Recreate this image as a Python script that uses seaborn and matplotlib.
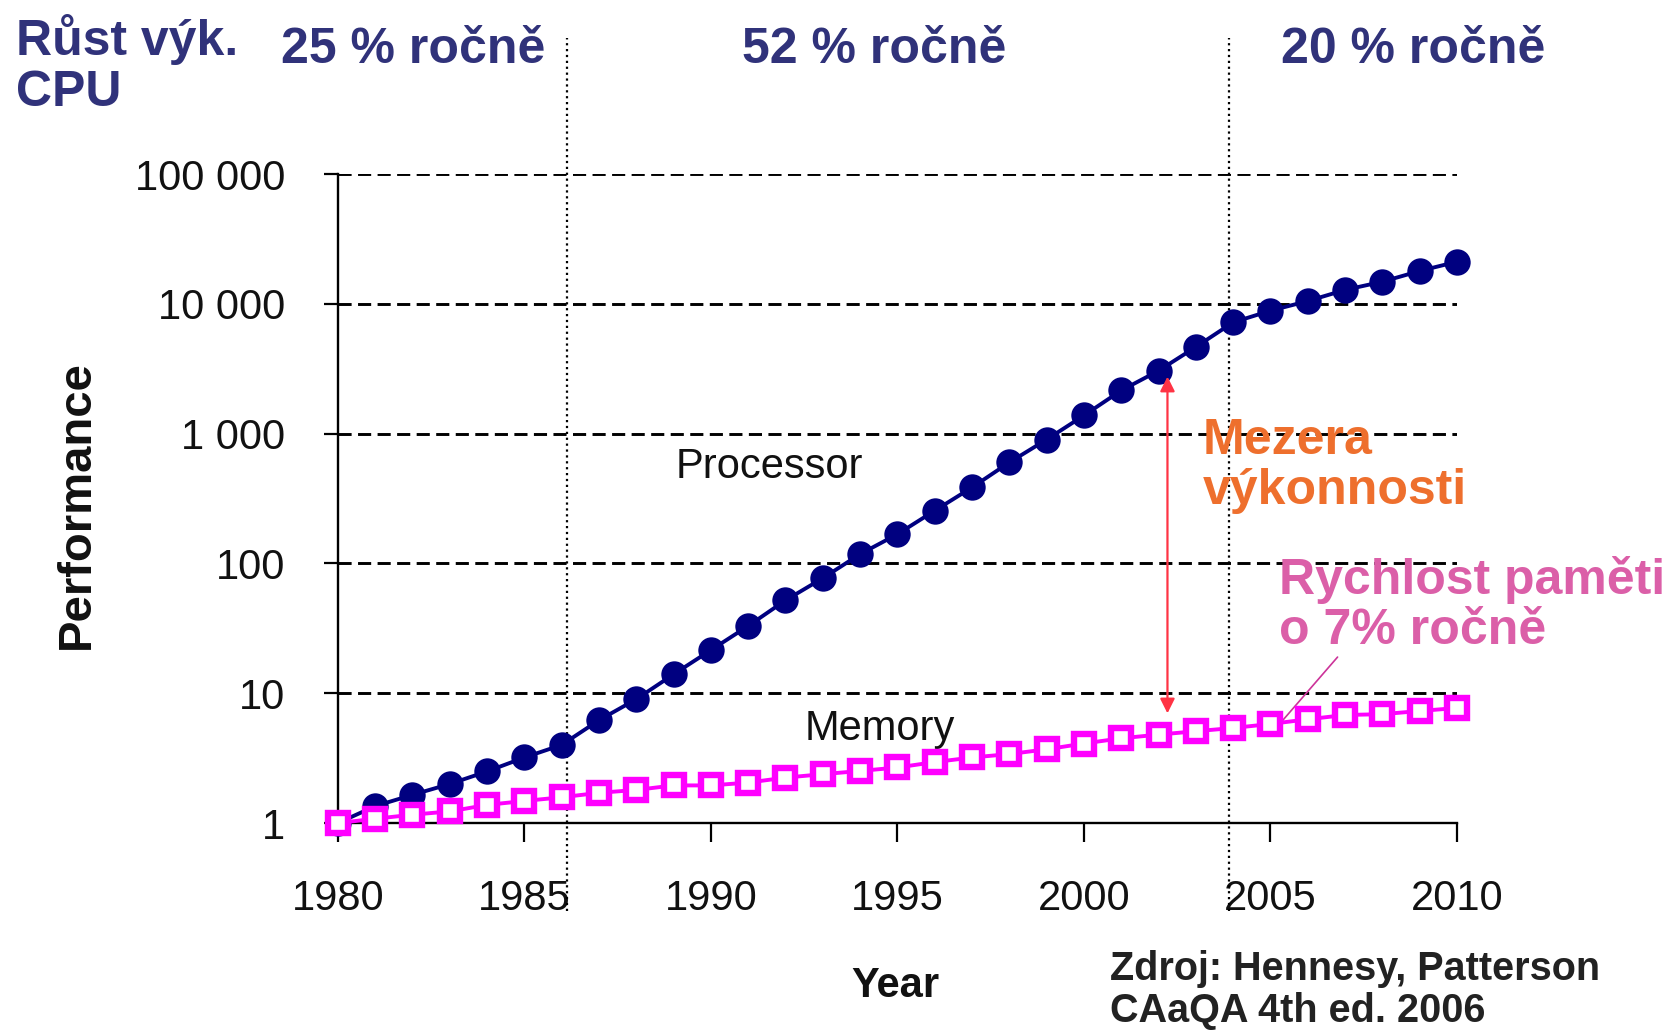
import numpy as np
import matplotlib
matplotlib.use("Agg")
import matplotlib.pyplot as plt
import seaborn as sns
import pandas as pd

# data
years = list(range(1980, 2011))
processor = [1, 1.35, 1.65, 2.0, 2.5, 3.2, 4.0, 6.2, 9.0, 14, 21.5, 33, 52, 77, 118, 168,
             255, 385, 600, 900, 1380, 2150, 3050, 4650, 7200, 8850, 10500, 12800, 14800,
             17900, 21100]
memory = [1, 1.08, 1.16, 1.23, 1.38, 1.48, 1.58, 1.71, 1.8, 1.95, 1.95, 2.05, 2.24, 2.38,
          2.52, 2.68, 2.95, 3.2, 3.4, 3.7, 4.1, 4.5, 4.8, 5.1, 5.4, 5.8, 6.3, 6.8, 6.9,
          7.3, 7.7]
ytick_vals = [1, 10, 100, 1000, 10000, 100000]
ytick_labels = ["1", "10", "100", "1 000", "10 000", "100 000"]
xtick_vals = [1980, 1985, 1990, 1995, 2000, 2005, 2010]
era_breaks = [1986.15, 2003.9]
era_labels = ["25 % ročně", "52 % ročně", "20 % ročně"]

df = pd.DataFrame({"Year": years, "Processor": processor, "Memory": memory})

sns.set_theme(style="white")
plt.rcParams["font.family"] = ["Liberation Sans", "DejaVu Sans"]

navy = "#30327a"
fig = plt.figure(figsize=(16.81, 10.34), dpi=100)
ax = fig.add_axes([0.201, 0.204, 0.6657, 0.6277])

sns.lineplot(data=df, x="Year", y="Processor", ax=ax, color="#000080", lw=2.8,
             marker="o", markersize=19, markeredgewidth=0, clip_on=False, zorder=3)
sns.lineplot(data=df, x="Year", y="Memory", ax=ax, color="#FF00FF", lw=2.8,
             marker="s", markersize=14.5, markerfacecolor="white",
             markeredgecolor="#FF00FF", markeredgewidth=4.6, clip_on=False, zorder=4)

ax.set_yscale("log")
ax.set_ylim(1, 100000)
ax.set_xlim(1980, 2010)
ax.set_yticks(ytick_vals)
ax.set_yticklabels(ytick_labels)
ax.minorticks_off()
ax.set_xticks(xtick_vals)
ax.tick_params(axis="y", direction="out", length=10, width=1.6, pad=28,
               labelsize=30, color="black", left=True)
ax.tick_params(axis="x", direction="out", length=14, width=1.6, pad=26,
               labelsize=30, color="black", bottom=True)
for lab in ax.get_xticklabels() + ax.get_yticklabels():
    lab.set_color("#111111")

ax.grid(axis="y", which="major", linestyle=(0, (4.5, 2.2)), color="black", lw=2.1)
ax.grid(axis="x", visible=False)
for s in ["top", "right"]:
    ax.spines[s].set_visible(False)
for s in ["left", "bottom"]:
    ax.spines[s].set_color("black")
    ax.spines[s].set_linewidth(1.7)

for xb in era_breaks:
    ax.axvline(xb, ymin=-0.135, ymax=1.21, color="black", ls=":", lw=1.6,
               clip_on=False, zorder=1)

ax.set_xlabel("")
ax.set_ylabel("")
fig.text(895 / 1681, 1 - 986 / 1034, "Year", ha="center", va="center",
         fontsize=30, fontweight="bold", color="#111111")
fig.text(77 / 1681, 1 - 505 / 1034, "Performance", ha="center", va="center",
         rotation=90, fontsize=34, fontweight="bold", color="#111111")

# era labels and title
fig.text(16 / 1681, 1 - 65 / 1034, "Růst výk.\nCPU", ha="left", va="center",
         fontsize=36, fontweight="bold", color=navy, linespacing=1.12)
for xc, t in zip([413, 874, 1413], era_labels):
    fig.text(xc / 1681, 1 - 50 / 1034, t, ha="center", va="center",
             fontsize=36, fontweight="bold", color=navy)

ax.text(1989.05, 550, "Processor", ha="left", va="center", fontsize=30, color="#111111")
ax.text(1992.5, 5.3, "Memory", ha="left", va="center", fontsize=30, color="#111111")

ax.annotate("", xy=(2002.24, 2750), xytext=(2002.24, 7.0),
            arrowprops=dict(arrowstyle="<|-|>", color="#FF3344", lw=1.6,
                            mutation_scale=22, shrinkA=0, shrinkB=0))
ax.text(2003.19, 560, "Mezera\nvýkonnosti", ha="left", va="center", fontsize=36,
        fontweight="bold", color="#EE6F2D", linespacing=1.12)

ax.annotate("", xy=(2005.2, 5.6), xytext=(2006.8, 19),
            arrowprops=dict(arrowstyle="-", color="#CC3399", lw=1.2,
                            shrinkA=0, shrinkB=0))
ax.text(2005.23, 47.8, "Rychlost paměti\no 7% ročně", ha="left", va="center",
        fontsize=36, fontweight="bold", color="#DB5FA8", linespacing=1.12,
        clip_on=False)

fig.text(1110 / 1681, 1 - 990 / 1034, "Zdroj: Hennesy, Patterson\nCAaQA 4th ed. 2006",
         ha="left", va="center", fontsize=28.5, fontweight="bold", color="#222222",
         linespacing=1.15)

fig.savefig("out.png", dpi=100, facecolor="white")
